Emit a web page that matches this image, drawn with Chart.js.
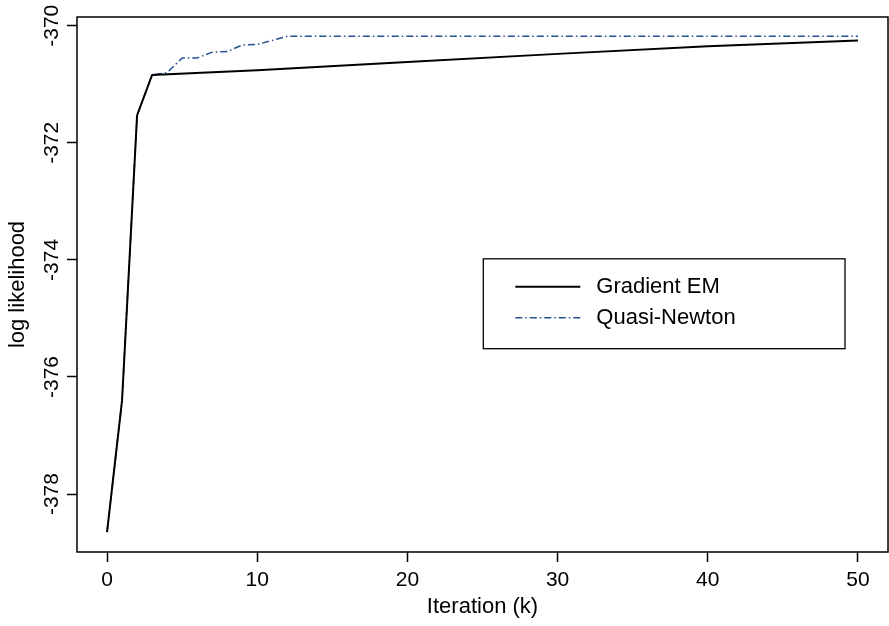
<!DOCTYPE html>
<html lang="en">
<head>
    <meta charset="UTF-8">
    <title>Log likelihood by iteration</title>
    <style>
        body {
            margin: 0;
            background: #ffffff;
        }
        #wrap {
            width: 889px;
            height: 626px;
        }
    </style>
    <script src="https://cdn.jsdelivr.net/npm/chart.js"></script>
</head>
<body>

<div id="wrap">
    <canvas id="llChart" width="889" height="626"></canvas>
</div>

<script>
    // Data
    const iterGradient = [0, 1, 2, 3, 10, 20, 30, 40, 50];
    const llGradient = [-378.65, -376.40, -371.53, -370.84, -370.76, -370.62, -370.48, -370.35, -370.25];

    const iterQuasi = [0, 1, 2, 3, 4, 5, 6, 7, 8, 9, 10, 11, 12, 50];
    const llQuasi = [-378.65, -376.40, -371.53, -370.84, -370.80, -370.55, -370.55, -370.45, -370.44,
                     -370.33, -370.32, -370.25, -370.18, -370.18];

    const xTicks = [0, 10, 20, 30, 40, 50];
    const yTicks = [-378, -376, -374, -372, -370];
    const seriesNames = ['Gradient EM', 'Quasi-Newton'];

    const FONT = '"Liberation Sans", Arial, Helvetica, sans-serif';
    const blue = '#23508f';

    function toPoints(xs, ys) {
        return xs.map((x, i) => ({ x: x, y: ys[i] }));
    }

    // frame, rotated y tick labels and the boxed legend (R style)
    const rStyle = {
        id: 'rStyle',
        afterDraw(chart) {
            const ctx = chart.ctx;
            const area = chart.chartArea;
            const yScale = chart.scales.y;

            ctx.save();
            ctx.strokeStyle = '#000';
            ctx.lineWidth = 1.5;
            ctx.strokeRect(area.left, area.top, area.right - area.left, area.bottom - area.top);

            // y tick labels, turned 90 degrees
            ctx.fillStyle = '#000';
            ctx.font = '21px ' + FONT;
            ctx.textAlign = 'center';
            ctx.textBaseline = 'middle';
            yTicks.forEach(v => {
                const py = yScale.getPixelForValue(v);
                ctx.save();
                ctx.translate(52, py);
                ctx.rotate(-Math.PI / 2);
                ctx.fillText(String(v), 0, 0);
                ctx.restore();
            });

            // legend box
            const w = area.right - area.left;
            const h = area.bottom - area.top;
            const bx = area.left + w * 0.501;
            const by = area.top + h * 0.452;
            const bw = w * 0.446;
            const bh = h * 0.168;
            ctx.lineWidth = 1.3;
            ctx.strokeRect(bx, by, bw, bh);

            const rows = [
                { name: seriesNames[0], color: '#000', width: 2, dash: [] },
                { name: seriesNames[1], color: blue, width: 1.5, dash: [7, 3, 1.5, 3] }
            ];
            ctx.textAlign = 'left';
            ctx.font = '22px ' + FONT;
            rows.forEach((r, i) => {
                const ly = by + 28 + i * 31;
                ctx.beginPath();
                ctx.strokeStyle = r.color;
                ctx.lineWidth = r.width;
                ctx.setLineDash(r.dash);
                ctx.moveTo(bx + 32, ly);
                ctx.lineTo(bx + 97, ly);
                ctx.stroke();
                ctx.setLineDash([]);
                ctx.fillStyle = '#000';
                ctx.fillText(r.name, bx + 113, ly);
            });
            ctx.restore();
        }
    };

    const ctxLL = document.getElementById('llChart').getContext('2d');
    const llChart = new Chart(ctxLL, {
        type: 'line',
        data: {
            datasets: [
                {
                    label: seriesNames[0],
                    data: toPoints(iterGradient, llGradient),
                    borderColor: '#000',
                    borderWidth: 2,
                    pointRadius: 0,
                    tension: 0
                },
                {
                    label: seriesNames[1],
                    data: toPoints(iterQuasi, llQuasi),
                    borderColor: blue,
                    borderWidth: 1.5,
                    borderDash: [7, 3, 1.5, 3],
                    pointRadius: 0,
                    tension: 0
                }
            ]
        },
        options: {
            responsive: false,
            animation: false,
            layout: { padding: { top: 17, right: 1, left: 0, bottom: 0 } },
            plugins: {
                legend: { display: false },
                tooltip: { enabled: false }
            },
            scales: {
                x: {
                    type: 'linear',
                    min: -2,
                    max: 52,
                    afterFit: s => { s.height = 74; },
                    afterBuildTicks: s => { s.ticks = xTicks.map(v => ({ value: v })); },
                    grid: {
                        drawOnChartArea: false,
                        drawTicks: true,
                        tickLength: 10,
                        tickWidth: 1.5,
                        tickColor: '#000'
                    },
                    border: { display: false },
                    ticks: {
                        color: '#000',
                        padding: 6,
                        maxRotation: 0,
                        font: { family: FONT, size: 21 }
                    },
                    title: {
                        display: true,
                        text: 'Iteration (k)',
                        color: '#000',
                        padding: { top: 0, bottom: 6 },
                        font: { family: FONT, size: 22 }
                    }
                },
                y: {
                    type: 'linear',
                    min: -378.99,
                    max: -369.85,
                    afterFit: s => { s.width = 77; },
                    afterBuildTicks: s => { s.ticks = yTicks.map(v => ({ value: v })); },
                    grid: {
                        drawOnChartArea: false,
                        drawTicks: true,
                        tickLength: 10,
                        tickWidth: 1.5,
                        tickColor: '#000'
                    },
                    border: { display: false },
                    ticks: {
                        color: 'rgba(0,0,0,0)',
                        font: { family: FONT, size: 21 }
                    },
                    title: {
                        display: true,
                        text: 'log likelihood',
                        color: '#000',
                        padding: { top: 5, bottom: 0 },
                        font: { family: FONT, size: 22 }
                    }
                }
            }
        },
        plugins: [rStyle]
    });
</script>

</body>
</html>
